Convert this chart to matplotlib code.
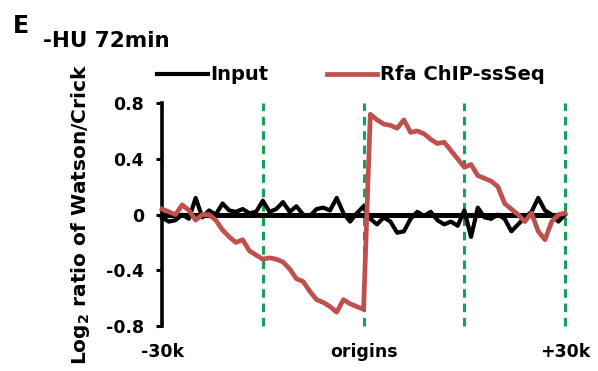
import matplotlib.pyplot as plt
import numpy as np

plt.rcParams['font.family'] = ['DejaVu Sans']
plt.rcParams['font.weight'] = 'bold'
plt.rcParams['mathtext.default'] = 'bf'

# positie in kb rond origins
pozicija = np.arange(-30, 31, 1)

ulaz = [-0.02, -0.05, -0.04, 0.0, -0.03, 0.12, -0.02, 0.03, 0.0, 0.08,
        0.03, 0.02, 0.04, 0.01, 0.02, 0.10, 0.02, 0.04, 0.09, 0.02,
        0.06, 0.0, -0.01, 0.04, 0.05, 0.03, 0.12, 0.01, -0.05, 0.01,
        0.06,
        -0.03, -0.07, -0.02, -0.05, -0.13, -0.12, -0.03, 0.02, -0.01, 0.02,
        -0.04, -0.07, -0.05, -0.08, 0.03, -0.16, 0.05, -0.02, -0.03, 0.0,
        -0.03, -0.12, -0.07, -0.02, 0.02, 0.12, 0.03, 0.0, -0.05, 0.0]

rfa = [0.04, 0.02, 0.0, 0.07, 0.03, -0.04, 0.0, 0.0, -0.04, -0.11,
       -0.16, -0.2, -0.18, -0.26, -0.29, -0.32, -0.31, -0.32, -0.34, -0.39,
       -0.46, -0.48, -0.55, -0.61, -0.63, -0.66, -0.70, -0.61, -0.64, -0.66,
       -0.68,
       0.72, 0.68, 0.65, 0.64, 0.62, 0.68, 0.59, 0.60, 0.58, 0.54,
       0.51, 0.52, 0.46, 0.40, 0.34, 0.36, 0.28, 0.26, 0.24, 0.20,
       0.08, 0.04, 0.0, -0.05, 0.01, -0.12, -0.18, -0.05, 0.0, 0.01]

linije = [-15, 0, 15, 30]
oznake_x = ['-30k', 'origins', '+30k']
oznake_y = [-0.8, -0.4, 0, 0.4, 0.8]

fig = plt.figure(figsize=(5.98, 3.71), dpi=100)
ax = fig.add_axes([0.271, 0.121, 0.674, 0.601])

for x in linije:
    ax.plot([x, x], [-0.8, 0.8], color='#1a9e5c', lw=2.2,
            linestyle=(0, (2.8, 1.9)), clip_on=False, zorder=1)

ax.axhline(0, color='black', lw=3.6, zorder=2)
ax.plot(pozicija, ulaz, color='black', lw=3.0, label='Input', zorder=3, clip_on=False)
ax.plot(pozicija, rfa, color='#c0504d', lw=3.4, label='Rfa ChIP-ssSeq', zorder=4, clip_on=False)

ax.set_xlim(-30, 30)
ax.set_ylim(-0.8, 0.8)
ax.set_yticks(oznake_y)
ax.set_yticklabels(['-0.8', '-0.4', '0', '0.4', '0.8'], fontsize=12.5, fontweight='bold')
ax.set_xticks([-30, 0, 30])
ax.set_xticklabels(oznake_x, fontsize=12.5, fontweight='bold')
ax.tick_params(axis='x', length=0, pad=12)
ax.tick_params(axis='y', length=4, width=2.2, direction='out', pad=9)

for s in ['top', 'right', 'bottom']:
    ax.spines[s].set_visible(False)
ax.spines['left'].set_linewidth(2.6)

ax.set_ylabel('Log$_2$ ratio of Watson/Crick', fontsize=14.5, fontweight='bold', labelpad=10)

fig.legend(*ax.get_legend_handles_labels(), loc='center left',
           bbox_to_anchor=(157 / 598, 1 - 75 / 371), ncol=2, frameon=False,
           fontsize=14, handlelength=2.6, handletextpad=0.15, columnspacing=3.0,
           borderaxespad=0, borderpad=0)

fig.text(0.022, 0.911, 'E', fontsize=17, fontweight='bold')
fig.text(0.072, 0.873, '-HU 72min', fontsize=15.5, fontweight='bold')

fig.savefig('out.png', dpi=100)
